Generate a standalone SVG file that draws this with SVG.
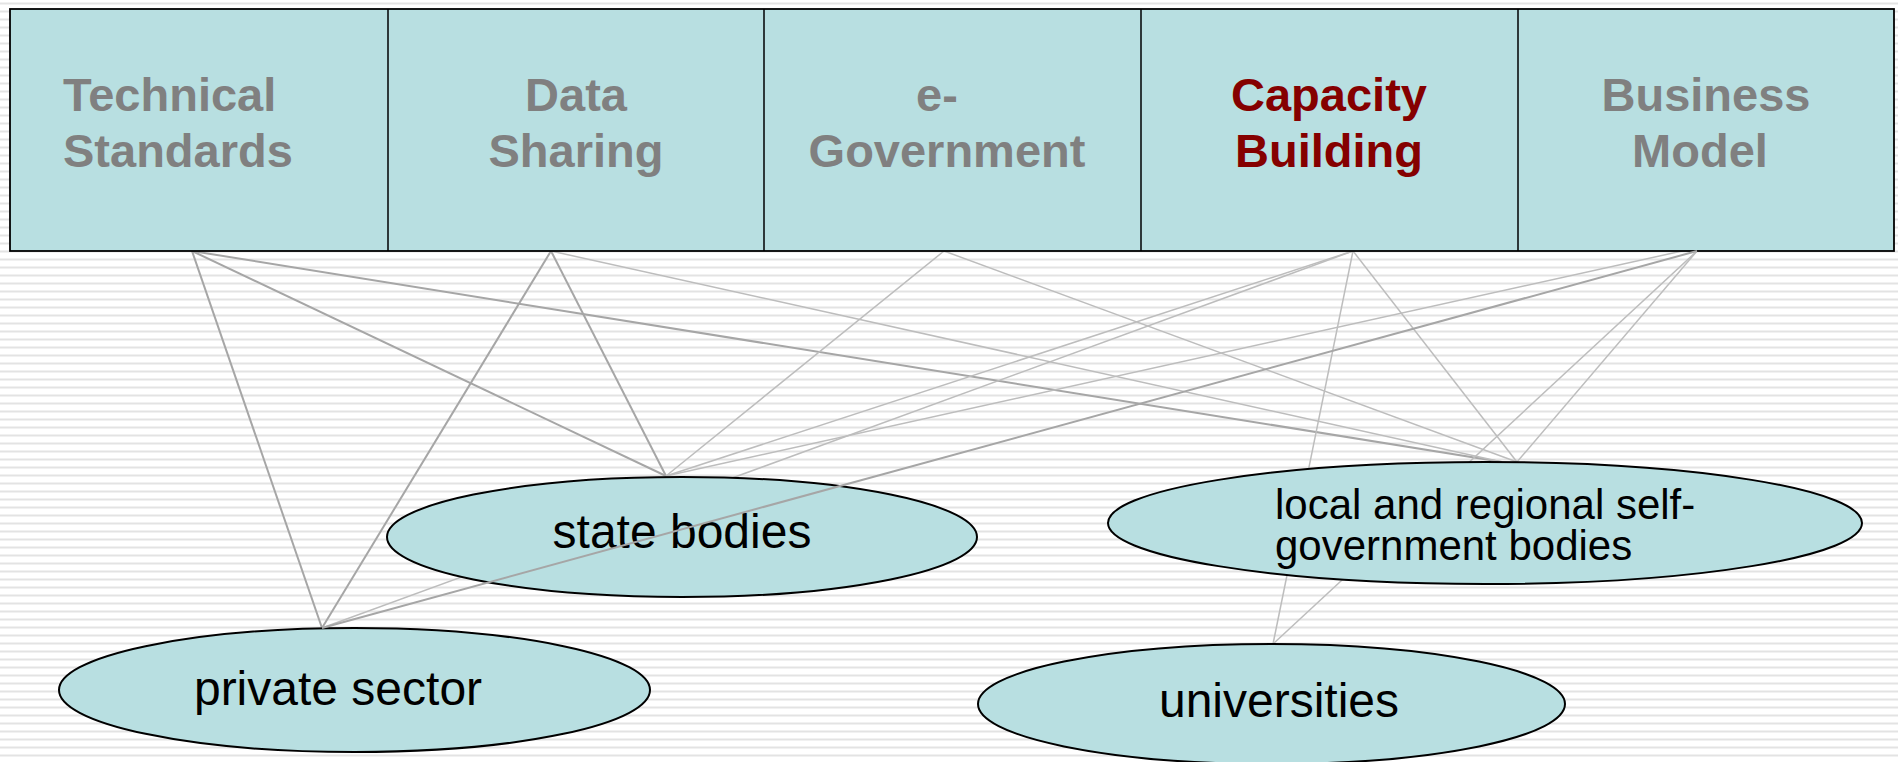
<svg xmlns="http://www.w3.org/2000/svg" width="1898" height="762" viewBox="0 0 1898 762">
<defs>
<pattern id="stripes" patternUnits="userSpaceOnUse" x="0" y="0" width="8" height="8">
<rect x="0" y="0" width="8" height="8" fill="#ffffff"/>
<rect x="0" y="2.5" width="8" height="2" fill="#e3e3e3"/>
</pattern>
</defs>
<style>
.box{fill:#b8dfe1;stroke:#000;stroke-width:1.8}
.head{font-family:"Liberation Sans",Arial,sans-serif;font-weight:bold;font-size:47px;fill:#808080}
.red{fill:#850000}
.ell{fill:#b8dfe1;stroke:#000;stroke-width:2}
.lbl{font-family:"Liberation Sans",Arial,sans-serif;font-size:48px;fill:#000;text-anchor:middle}
.lbl2{font-family:"Liberation Sans",Arial,sans-serif;font-size:42px;fill:#000}
.c{stroke:#bdbdbd;stroke-width:1.5;fill:none}
.d{stroke:#a6a6a6;stroke-width:2;fill:none}
</style>
<rect x="0" y="0" width="1898" height="762" fill="url(#stripes)"/>

<g id="connectors">
<line class="d" x1="192" y1="251" x2="322" y2="628"/>
<line class="d" x1="192" y1="251" x2="666" y2="476"/>
<line class="d" x1="192" y1="251" x2="1502" y2="462"/>
<line class="d" x1="551" y1="251" x2="322" y2="628"/>
<line class="d" x1="551" y1="251" x2="666" y2="476"/>
<line class="c" x1="551" y1="251" x2="1502" y2="462"/>
<line class="c" x1="944" y1="251" x2="666" y2="476"/>
<line class="c" x1="944" y1="251" x2="1517" y2="462"/>
<line class="c" x1="1353" y1="251" x2="666" y2="476"/>
<line class="c" x1="1353" y1="251" x2="322" y2="628"/>
<line class="c" x1="1353" y1="251" x2="1517" y2="462"/>
<line class="c" x1="1353" y1="251" x2="1273" y2="644"/>
<line class="c" x1="1682" y1="251" x2="666" y2="476"/>
<line class="c" x1="1697" y1="251" x2="1517" y2="462"/>
<line class="c" x1="1697" y1="251" x2="1273" y2="644"/>
</g>

<g id="header">
<rect class="box" x="10" y="9" width="1884" height="242"/>
<line x1="388" y1="9" x2="388" y2="251" stroke="#000" stroke-width="1.5"/>
<line x1="764" y1="9" x2="764" y2="251" stroke="#000" stroke-width="1.5"/>
<line x1="1141" y1="9" x2="1141" y2="251" stroke="#000" stroke-width="1.5"/>
<line x1="1518" y1="9" x2="1518" y2="251" stroke="#000" stroke-width="1.5"/>
</g>
<g id="technical-standards">
<text class="head" x="63" y="111">Technical<tspan x="63" y="167">Standards</tspan></text>
</g>
<g id="data-sharing">
<text class="head" x="576" y="111" text-anchor="middle">Data<tspan x="576" y="167">Sharing</tspan></text>
</g>
<g id="e-government">
<text class="head" x="937" y="111" text-anchor="middle">e-<tspan x="947" y="167">Government</tspan></text>
</g>
<g id="capacity-building">
<text class="head red" x="1329" y="111" text-anchor="middle">Capacity<tspan x="1329" y="167">Building</tspan></text>
</g>
<g id="business-model">
<text class="head" x="1706" y="111" text-anchor="middle">Business<tspan x="1700" y="167">Model</tspan></text>
</g>

<g id="state-bodies">
<ellipse class="ell" cx="682" cy="537" rx="295" ry="60"/>
<text class="lbl" x="682" y="548">state bodies</text>
</g>
<g id="local-regional">
<ellipse class="ell" cx="1485" cy="523" rx="377" ry="61"/>
<text class="lbl2" x="1275" y="519">local and regional self-<tspan x="1275" y="560">government bodies</tspan></text>
</g>
<g id="private-sector">
<ellipse class="ell" cx="354.5" cy="690" rx="295.5" ry="62"/>
<text class="lbl" x="338" y="705">private sector</text>
</g>
<g id="universities">
<ellipse class="ell" cx="1271.5" cy="704" rx="293.5" ry="60"/>
<text class="lbl" x="1279" y="717">universities</text>
</g>

<g id="connectors-over">
<line class="d" x1="1697" y1="251" x2="322" y2="628"/>
</g>
</svg>
